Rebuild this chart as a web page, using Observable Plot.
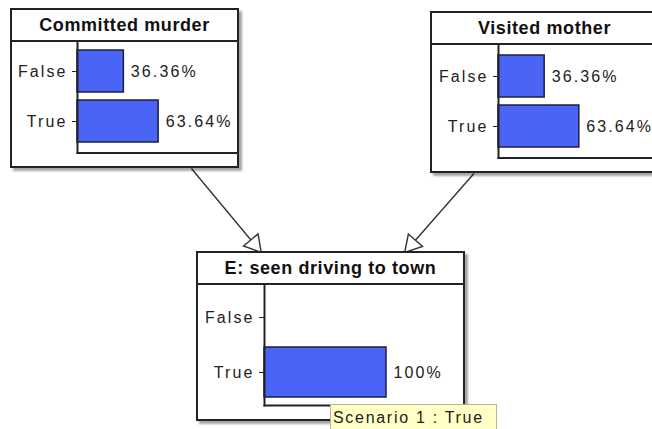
<!DOCTYPE html>
<html><head><meta charset="utf-8">
<script src="https://cdn.jsdelivr.net/npm/d3@7"></script>
<script src="https://cdn.jsdelivr.net/npm/@observablehq/plot@0.6"></script>
<style>
html,body{margin:0;padding:0;background:#fff;}
#root{position:relative;width:652px;height:429px;overflow:hidden;background:#fff;font-family:"Liberation Sans",Arial,sans-serif;}
.node{position:absolute;box-sizing:border-box;border:2px solid #222;background:#fff;box-shadow:3px 3px 2px rgba(0,0,0,0.35);}
.title{height:30px;border-bottom:2px solid #222;text-align:center;font-weight:bold;font-size:18px;line-height:31px;letter-spacing:0.6px;color:#111;white-space:nowrap;}
.node svg{display:block;}
.node svg text{letter-spacing:2.1px;}
.tip{position:absolute;box-sizing:border-box;background:#ffffc6;border:1px solid #b9b48a;font-size:16px;letter-spacing:1.7px;color:#222;padding-left:2px;line-height:25px;white-space:nowrap;}
#edges{position:absolute;left:0;top:0;}
</style>
</head><body>
<div id="root"></div>
<script>
// ---- data ----
const nodeNames = ["Committed murder", "Visited mother", "E: seen driving to town"];
const states = ["False", "True"];
const murderValues = [36.36, 63.64];
const motherValues = [36.36, 63.64];
const seenValues = [0, 100];
const edgeSources = ["Committed murder", "Visited mother"];
const edgeTargets = ["E: seen driving to town", "E: seen driving to town"];
const tooltipText = "Scenario 1 : True";

// ---- layout (positions/sizes only) ----
const layout = {
  "Committed murder":        {left: 10,  top: 8,   width: 229, height: 160, axisX: 65, barScale: 127.5, yRange: [0, 109], padding: 0.155, marginBottom: 13.5},
  "Visited mother":          {left: 430, top: 11,  width: 229, height: 162, axisX: 66, barScale: 127,   yRange: [2, 111], padding: 0.155, marginBottom: 13.5},
  "E: seen driving to town": {left: 196, top: 251, width: 269, height: 170, axisX: 66, barScale: 122,   yRange: [1, 117], padding: 0.1,   marginBottom: 14}
};
const valuesByNode = {
  "Committed murder": murderValues,
  "Visited mother": motherValues,
  "E: seen driving to town": seenValues
};

const root = document.getElementById("root");
const W = 652, H = 429;

// ---- edges (center-to-center, clipped at box borders) ----
function center(L) { return [L.left + L.width / 2, L.top + L.height / 2]; }
const edgeSegs = [], heads = [];
edgeSources.forEach((s, i) => {
  const A = layout[s], B = layout[edgeTargets[i]];
  const [ax, ay] = center(A), [bx, by] = center(B);
  const dx = bx - ax, dy = by - ay;
  const t1 = (A.top + A.height - ay) / dy;
  const t2 = (B.top + 1 - ay) / dy;
  const x1 = ax + dx * t1, y1 = ay + dy * t1;
  const x2 = ax + dx * t2, y2 = ay + dy * t2;
  edgeSegs.push({x1, y1, x2, y2});
  const len = Math.hypot(dx, dy), ux = dx / len, uy = dy / len;
  const r = 7;
  const tipDist = 2 * Math.sqrt(Math.PI * r * r / (3 * Math.sqrt(3)));
  heads.push({x: x2 - ux * tipDist, y: y2 - uy * tipDist, rotate: Math.atan2(dx, -dy) * 180 / Math.PI});
});
const edgePlot = Plot.plot({
  width: W, height: H, margin: 0,
  x: {type: "identity", axis: null}, y: {type: "identity", axis: null},
  style: {background: "transparent"},
  marks: [
    Plot.link(edgeSegs, {x1: "x1", y1: "y1", x2: "x2", y2: "y2", stroke: "#333", strokeWidth: 1.4}),
    Plot.dot(heads, {x: "x", y: "y", symbol: "triangle", r: 7, rotate: "rotate", fill: "white", stroke: "#333", strokeWidth: 1.4})
  ]
});
edgePlot.id = "edges";
root.appendChild(edgePlot);

// ---- nodes ----
function nodeChart(name) {
  const L = layout[name];
  const values = valuesByNode[name];
  const data = states.map((s, i) => ({state: s, value: values[i]}));
  const shown = data.filter(d => d.value > 0);
  const w = L.width - 4, h = L.height - 4 - 32;
  return Plot.plot({
    width: w, height: h,
    marginLeft: L.axisX, marginRight: 0, marginTop: 0, marginBottom: L.marginBottom,
    style: {fontFamily: "'Liberation Sans', Arial, sans-serif", fontSize: "16px", color: "#222", background: "transparent", overflow: "visible"},
    x: {domain: [0, 100], range: [L.axisX, L.axisX + L.barScale], axis: null},
    y: {domain: states, range: L.yRange, padding: L.padding, axis: null},
    marks: [
      Plot.barX(shown, {x: "value", y: "state", fill: "#4a64f5", stroke: "#1c2040", strokeWidth: 1.5}),
      Plot.text(shown, {x: "value", y: "state", text: d => d.value + "%", textAnchor: "start", dx: 7, fontSize: 16, fill: "#222"}),
      Plot.frame({anchor: "left", stroke: "#222", strokeWidth: 2}),
      Plot.frame({anchor: "bottom", stroke: "#222", strokeWidth: 2}),
      Plot.axisY({tickSize: 5, tickPadding: 5, label: null, fontSize: 16, stroke: "#222", fill: "#222"})
    ]
  });
}

nodeNames.forEach(name => {
  const L = layout[name];
  const div = document.createElement("div");
  div.className = "node";
  Object.assign(div.style, {left: L.left + "px", top: L.top + "px", width: L.width + "px", height: L.height + "px"});
  const t = document.createElement("div");
  t.className = "title";
  t.textContent = name;
  div.appendChild(t);
  div.appendChild(nodeChart(name));
  root.appendChild(div);
});

// ---- tooltip ----
const tip = document.createElement("div");
tip.className = "tip";
Object.assign(tip.style, {left: "330px", top: "404px", width: "167px", height: "30px"});
tip.textContent = tooltipText;
root.appendChild(tip);
</script>
</body></html>
